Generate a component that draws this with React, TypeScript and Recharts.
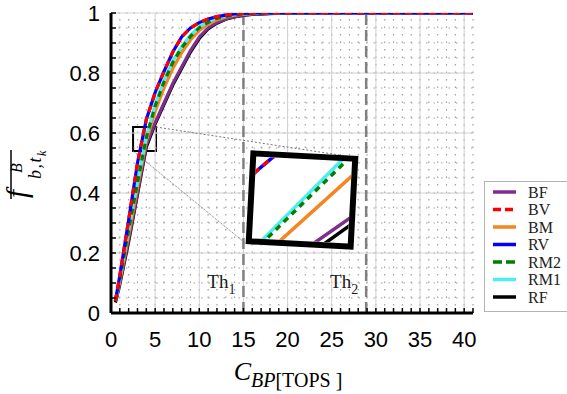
import React from 'react';
import {
  LineChart,
  Line,
  XAxis,
  YAxis,
  ReferenceLine,
  ReferenceArea,
  Legend,
} from 'recharts';

// ---------------- data ----------------
const xValues = [0.5, 1, 2, 3, 4, 5, 6, 7, 8, 9, 10, 11, 12, 13, 14, 15, 16, 18, 20, 25, 30, 35, 41];

const BF = [0.04, 0.1, 0.245, 0.4, 0.56, 0.635, 0.7, 0.765, 0.82, 0.875, 0.92, 0.95, 0.968, 0.98, 0.988, 0.993, 0.996, 0.999, 1, 1, 1, 1, 1];
const BV = [0.04, 0.125, 0.31, 0.5, 0.645, 0.735, 0.805, 0.87, 0.92, 0.95, 0.968, 0.98, 0.988, 0.993, 0.997, 0.999, 1, 1, 1, 1, 1, 1, 1];
const BM = [0.04, 0.108, 0.262, 0.42, 0.575, 0.672, 0.75, 0.815, 0.868, 0.91, 0.942, 0.963, 0.977, 0.987, 0.993, 0.996, 0.998, 1, 1, 1, 1, 1, 1];
const RV = [0.04, 0.125, 0.31, 0.5, 0.645, 0.735, 0.805, 0.87, 0.92, 0.95, 0.968, 0.98, 0.988, 0.993, 0.997, 0.999, 1, 1, 1, 1, 1, 1, 1];
const RM2 = [0.04, 0.113, 0.277, 0.435, 0.585, 0.69, 0.77, 0.835, 0.884, 0.922, 0.951, 0.969, 0.982, 0.989, 0.994, 0.997, 0.999, 1, 1, 1, 1, 1, 1];
const RM1 = [0.04, 0.115, 0.28, 0.437, 0.587, 0.695, 0.775, 0.84, 0.888, 0.926, 0.953, 0.971, 0.983, 0.99, 0.995, 0.998, 0.999, 1, 1, 1, 1, 1, 1];
const RF = [0.035, 0.095, 0.238, 0.395, 0.553, 0.63, 0.695, 0.76, 0.815, 0.87, 0.915, 0.947, 0.966, 0.979, 0.987, 0.992, 0.995, 0.998, 1, 1, 1, 1, 1];

const legendOrder = ['BF', 'BV', 'BM', 'RV', 'RM2', 'RM1', 'RF'];
const drawOrder = ['RF', 'BF', 'BM', 'RM1', 'RM2', 'RV', 'BV'];

const xTicks = [0, 5, 10, 15, 20, 25, 30, 35, 40];
const yTicks = [0, 0.2, 0.4, 0.6, 0.8, 1];
const xMinorTicks = [0, 1, 2, 3, 4, 5, 6, 7, 8, 9, 10, 11, 12, 13, 14, 15, 16, 17, 18, 19, 20, 21, 22, 23, 24, 25, 26, 27, 28, 29, 30, 31, 32, 33, 34, 35, 36, 37, 38, 39, 40, 41];
const yMinorTicks = [0, 0.05, 0.1, 0.15, 0.2, 0.25, 0.3, 0.35, 0.4, 0.45, 0.5, 0.55, 0.6, 0.65, 0.7, 0.75, 0.8, 0.85, 0.9, 0.95, 1];
const xDomain = [0, 41];
const yDomain = [0, 1];

const thresholds = [15, 28.9];
const thresholdSubs = ['1', '2'];

// zoom box (data coordinates) and the inset's data window
const zoomBox = { x1: 2.5, x2: 5.1, y1: 0.54, y2: 0.62 };
const connectorTop = [{ x: 5.1, y: 0.62 }, { x: 28, y: 0.517 }];
const connectorBottom = [{ x: 2.5, y: 0.54 }, { x: 15.2, y: 0.233 }];
const insetXDomain = [4.0, 4.725];
const insetYDomain = [0.5963, 0.6562];

const seriesValues: Record<string, number[]> = { BF, BV, BM, RV, RM2, RM1, RF };

const seriesStyle: Record<string, { color: string; dash?: string; legendDash?: string }> = {
  BF: { color: '#7E2F8E' },
  BV: { color: '#FF0000', dash: '7 5', legendDash: '8 4' },
  BM: { color: '#F5851F' },
  RV: { color: '#0000FF' },
  RM2: { color: '#008000', dash: '6 5', legendDash: '9 4' },
  RM1: { color: '#4DEEEE' },
  RF: { color: '#000000' },
};

const data = xValues.map((x, i) => {
  const row: Record<string, number> = { x };
  legendOrder.forEach((k) => {
    row[k] = seriesValues[k][i];
  });
  return row;
});

// ---------------- components ----------------
const XTick = (props: any) => {
  const { x, y, payload } = props;
  const v = payload.value;
  const isMajor = xTicks.includes(v);
  return (
    <g>
      <line x1={x} x2={x} y1={y} y2={y - 5} stroke="#000" strokeWidth={1.5} />
      {isMajor && (
        <text x={x} y={y + 34} textAnchor="middle" fontFamily="Liberation Sans" fontSize={22} fill="#000">
          {v}
        </text>
      )}
    </g>
  );
};

const YTick = (props: any) => {
  const { x, y, payload } = props;
  const v = payload.value;
  const isMajor = yTicks.includes(v);
  return (
    <g>
      <line x1={x} x2={x + 5} y1={y} y2={y} stroke="#000" strokeWidth={1.5} />
      {isMajor && (
        <text x={x - 11} y={y + 8} textAnchor="end" fontFamily="Liberation Sans" fontSize={22} fill="#000">
          {v}
        </text>
      )}
    </g>
  );
};

const ThLabel = (props: any) => {
  const { viewBox, sub } = props;
  if (!viewBox) return null;
  const x = viewBox.x - 8;
  const y = viewBox.y + viewBox.height - 25;
  return (
    <text x={x} y={y} textAnchor="end" fontFamily="Liberation Serif" fontSize={19} fill="#1a1a1a">
      Th
      <tspan fontSize={14} dy={6}>
        {sub}
      </tspan>
    </text>
  );
};

const XTitle = (props: any) => {
  const { viewBox } = props;
  if (!viewBox) return null;
  const cx = viewBox.x + viewBox.width / 2 - 4;
  const y = viewBox.y + 67;
  return (
    <text x={cx} y={y} textAnchor="middle" fontFamily="Liberation Serif" fill="#000">
      <tspan fontStyle="italic" fontSize={26}>C</tspan>
      <tspan fontStyle="italic" fontSize={20} dy={7}>BP</tspan>
      <tspan fontSize={20}>[TOPS ]</tspan>
    </text>
  );
};

const YTitle = (props: any) => {
  const { viewBox } = props;
  if (!viewBox) return null;
  const cx = viewBox.x - 24;
  const cy = viewBox.y + 160;
  return (
    <g transform={`translate(${cx},${cy}) rotate(-90)`} fontFamily="Liberation Serif" fill="#000">
      <line x1={-26} x2={23} y1={-16} y2={-16} stroke="#000" strokeWidth={1.5} />
      <text x={-25} y={0} fontStyle="italic" fontSize={29}>f</text>
      <text x={0} y={-5} fontStyle="italic" fontSize={16}>B</text>
      <text x={-6} y={14} fontStyle="italic" fontSize={18} letterSpacing={1.5}>
        b,t
        <tspan fontSize={12} dy={5}>k</tspan>
      </text>
    </g>
  );
};

const LegendBox = () => {
  const rowH = 17.5;
  return (
    <svg width={90} height={131} style={{ display: 'block' }}>
      <rect x={0.5} y={0.5} width={89} height={130} fill="#fff" stroke="#b3b3b3" strokeWidth={1} />
      {legendOrder.map((name, i) => {
        const cy = 11 + i * rowH;
        const st = seriesStyle[name];
        return (
          <g key={name}>
            <line x1={9} x2={32} y1={cy} y2={cy} stroke={st.color} strokeWidth={3.5} strokeDasharray={st.legendDash} />
            <text x={44} y={cy} dy="0.35em" fontFamily="Liberation Serif" fontSize={16} fill="#222">
              {name}
            </text>
          </g>
        );
      })}
    </svg>
  );
};

const Inset = () => (
  <div
    style={{
      position: 'absolute',
      left: 248,
      top: 153,
      width: 108,
      height: 94,
      boxSizing: 'border-box',
      border: '6px solid #000',
      background: '#fff',
      transform: 'rotate(3deg)',
      overflow: 'hidden',
    }}
  >
    <LineChart width={96} height={82} data={data} margin={{ top: 0, right: 0, bottom: 0, left: 0 }}>
      <XAxis dataKey="x" type="number" domain={insetXDomain} allowDataOverflow hide />
      <YAxis type="number" domain={insetYDomain} allowDataOverflow hide />
      {drawOrder.map((name) => (
        <Line
          key={name}
          dataKey={name}
          type="linear"
          stroke={seriesStyle[name].color}
          strokeWidth={3.5}
          strokeDasharray={seriesStyle[name].dash}
          dot={false}
          activeDot={false}
          isAnimationActive={false}
        />
      ))}
    </LineChart>
  </div>
);

export default function App() {
  return (
    <div style={{ position: 'absolute', left: 0, top: 0, width: 567, height: 394, background: '#fff' }}>
      <LineChart width={567} height={394} data={data} margin={{ top: 13, right: 94, bottom: 21, left: 51 }}>
        <XAxis
          dataKey="x"
          type="number"
          domain={xDomain}
          ticks={xMinorTicks}
          interval={0}
          height={60}
          tickLine={false}
          tickSize={0}
          tickMargin={0}
          tick={<XTick />}
          axisLine={{ stroke: '#000', strokeWidth: 3 }}
          allowDataOverflow
          label={<XTitle />}
        />
        <YAxis
          type="number"
          domain={yDomain}
          ticks={yMinorTicks}
          interval={0}
          width={60}
          tickLine={false}
          tickSize={0}
          tickMargin={0}
          tick={<YTick />}
          axisLine={{ stroke: '#000', strokeWidth: 3 }}
          allowDataOverflow
          label={<YTitle />}
        />
        {/* minor dotted grid */}
        {xMinorTicks.map((v) => (
          <ReferenceLine key={`mx${v}`} x={v} stroke="#a0a0a0" strokeWidth={1.2} strokeDasharray="1.5 6" />
        ))}
        {yMinorTicks.map((v) => (
          <ReferenceLine key={`my${v}`} y={v} stroke="#a0a0a0" strokeWidth={1.2} strokeDasharray="1.5 6" />
        ))}
        {/* major grid */}
        {xTicks.map((v) => (
          <ReferenceLine key={`gx${v}`} x={v} stroke="#d0d0d0" strokeWidth={1} />
        ))}
        {yTicks.map((v) => (
          <ReferenceLine key={`gy${v}`} y={v} stroke="#d0d0d0" strokeWidth={1} />
        ))}
        <ReferenceLine segment={connectorTop} stroke="#777" strokeWidth={1} strokeDasharray="2 2" />
        <ReferenceLine segment={connectorBottom} stroke="#777" strokeWidth={1} strokeDasharray="1 1" />
        {thresholds.map((t, i) => (
          <ReferenceLine
            key={`th${t}`}
            x={t}
            stroke="#808080"
            strokeWidth={2.5}
            strokeDasharray="11 5"
            label={<ThLabel sub={thresholdSubs[i]} />}
          />
        ))}
        {drawOrder.map((name) => (
          <Line
            key={name}
            dataKey={name}
            type="linear"
            stroke={seriesStyle[name].color}
            strokeWidth={3.2}
            strokeDasharray={seriesStyle[name].dash}
            dot={false}
            activeDot={false}
            isAnimationActive={false}
          />
        ))}
        <ReferenceArea
          x1={zoomBox.x1}
          x2={zoomBox.x2}
          y1={zoomBox.y1}
          y2={zoomBox.y2}
          fill="none"
          fillOpacity={0}
          stroke="#000"
          strokeWidth={2}
        />
        <Legend
          layout="vertical"
          align="center"
          verticalAlign="middle"
          wrapperStyle={{ position: 'absolute', left: 484, top: 181, width: 90, height: 131 }}
          content={() => <LegendBox />}
        />
      </LineChart>
      <Inset />
    </div>
  );
}
